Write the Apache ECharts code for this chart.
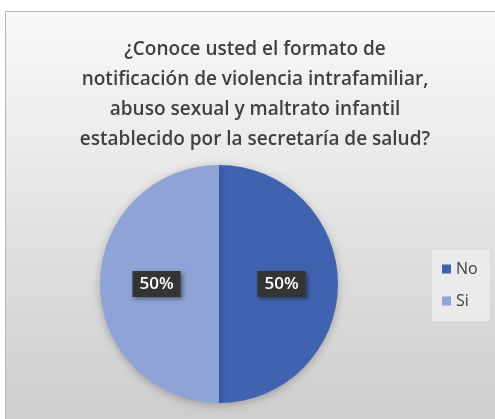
<!DOCTYPE html>
<html>
<head>
<meta charset="utf-8">
<script src="https://cdn.jsdelivr.net/npm/echarts@6/dist/echarts.min.js"></script>
<style>
  html, body { margin: 0; padding: 0; background: #fff; }
  #chart { width: 495px; height: 419px; }
</style>
</head>
<body>
<div id="chart"></div>
<script>
// respuestas de la encuesta
const categories = ['No', 'Si']
const values = [50, 50]
const colors = ['#3f63ae', '#8ea3d6']
const title = '¿Conoce usted el formato de\nnotificación de violencia intrafamiliar,\nabuso sexual y maltrato infantil\nestablecido por la secretaría de salud?'

const chart = echarts.init(document.getElementById('chart'))

// fondo del marco: franjas de blanco (arriba) a gris (abajo), en hex
const frameTop = 11
const frameHeight = 410
const strips = 24
const background = []
for (let i = 0; i < strips; i++) {
  const level = Math.round(248 - (248 - 204) * i / (strips - 1))
  const hex = level.toString(16).padStart(2, '0')
  const h = Math.ceil(frameHeight / strips)
  background.push({
    type: 'rect',
    z: -10,
    silent: true,
    shape: { x: 5, y: frameTop + i * h, width: 495, height: h + 1 },
    style: { fill: '#' + hex + hex + hex }
  })
}
background.push({
  type: 'rect',
  z: -9,
  silent: true,
  shape: { x: 5.5, y: 11.5, width: 495, height: 420 },
  style: { fill: 'none', stroke: '#b5b5b5', lineWidth: 1 }
})

const option = {
  animation: false,
  backgroundColor: '#ffffff',
  graphic: background,
  title: {
    text: title,
    left: 250,
    textAlign: 'center',
    top: 30,
    textStyle: {
      fontFamily: 'Open Sans',
      fontSize: 19,
      fontWeight: 600,
      color: '#404040',
      lineHeight: 30
    }
  },
  legend: {
    orient: 'vertical',
    left: 432,
    top: 250,
    itemWidth: 9,
    itemHeight: 9,
    itemGap: 16,
    padding: [11, 12, 12, 10],
    icon: 'rect',
    backgroundColor: 'rgba(236,236,236,0.9)',
    textStyle: { fontFamily: 'Open Sans', fontSize: 16, color: '#404040' },
    data: categories
  },
  series: [{
    type: 'pie',
    center: [219, 284],
    radius: 119,
    startAngle: 90,
    clockwise: true,
    color: colors,
    itemStyle: {
      shadowBlur: 8,
      shadowColor: 'rgba(0,0,0,0.25)',
      shadowOffsetY: 2
    },
    label: {
      position: 'inside',
      formatter: '{d}%',
      fontFamily: 'Open Sans',
      fontSize: 17,
      fontWeight: 600,
      color: '#ffffff',
      backgroundColor: '#343434',
      padding: [5, 7, 4, 7],
      shadowBlur: 4,
      shadowColor: 'rgba(0,0,0,0.4)',
      shadowOffsetX: 2,
      shadowOffsetY: 2
    },
    labelLine: { show: false },
    emphasis: { disabled: true },
    data: categories.map((name, i) => ({ name, value: values[i] }))
  }]
}

chart.setOption(option)
</script>
</body>
</html>
